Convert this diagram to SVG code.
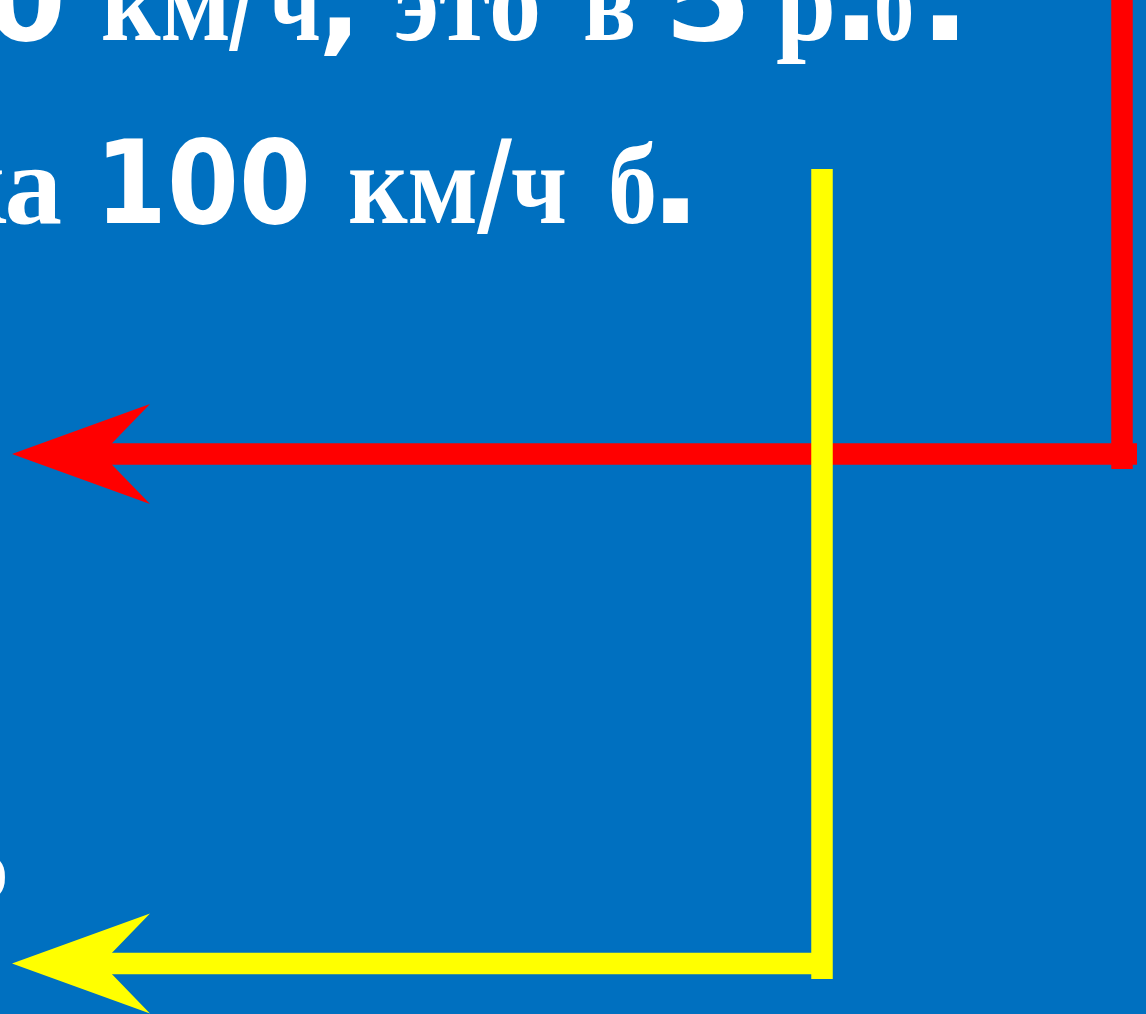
<svg xmlns="http://www.w3.org/2000/svg" width="1146" height="1014" viewBox="0 0 1146 1014">
<style>
.s{font-family:"Liberation Serif","Times New Roman",serif;font-weight:bold;font-size:115px;fill:#ffffff}
.a{font-family:"DejaVu Sans","Liberation Sans",Arial,sans-serif;font-weight:bold;font-size:115px;fill:#ffffff}
.p{font-size:130px}
.c{fill:none;stroke-width:21.5;stroke-linecap:butt}
</style>
<defs>
<marker id="ahR" markerUnits="userSpaceOnUse" orient="auto" refX="0" refY="0" markerWidth="300" markerHeight="300" overflow="visible">
<path d="M100,0 L-38,-50 L0,-10.75 L0,10.75 L-38,50 Z" fill="#ff0000"/>
</marker>
<marker id="ahY" markerUnits="userSpaceOnUse" orient="auto" refX="0" refY="0" markerWidth="300" markerHeight="300" overflow="visible">
<path d="M100,0 L-38,-50 L0,-10.75 L0,10.75 L-38,50 Z" fill="#ffff00"/>
</marker>
</defs>
<rect x="0" y="0" width="1146" height="1014" fill="#0070c0"/>
<g id="line1">
<text class="a" x="66" y="40" text-anchor="end">0</text>
<text class="s" x="101" y="40" textLength="130" lengthAdjust="spacingAndGlyphs">км</text>
<text class="a" x="229" y="40" textLength="28" lengthAdjust="spacingAndGlyphs">/</text>
<text class="s" x="269" y="40" textLength="52" lengthAdjust="spacingAndGlyphs">ч</text>
<text class="a" x="318" y="40">,</text>
<text class="s" x="394" y="40" textLength="147" lengthAdjust="spacingAndGlyphs">это</text>
<text class="s" x="583" y="40" textLength="53" lengthAdjust="spacingAndGlyphs">в</text>
<text class="a" x="664" y="40" textLength="88" lengthAdjust="spacingAndGlyphs">5</text>
<text class="s" x="776" y="40" textLength="60" lengthAdjust="spacingAndGlyphs">р</text>
<text class="a p" x="832" y="40" textLength="49" lengthAdjust="spacingAndGlyphs">.</text>
<text class="s" x="874" y="40" textLength="40" lengthAdjust="spacingAndGlyphs">б</text>
<text class="a p" x="919" y="40" textLength="52" lengthAdjust="spacingAndGlyphs">.</text>
</g>
<g id="line2">
<text class="s" x="62" y="223" text-anchor="end">ка</text>
<text class="a" x="95" y="223" textLength="216" lengthAdjust="spacingAndGlyphs">100</text>
<text class="s" x="348" y="223" textLength="130" lengthAdjust="spacingAndGlyphs">км</text>
<text class="a" x="477" y="223" textLength="35" lengthAdjust="spacingAndGlyphs">/</text>
<text class="s" x="511" y="223" textLength="56" lengthAdjust="spacingAndGlyphs">ч</text>
<text class="s" x="608" y="223" textLength="49" lengthAdjust="spacingAndGlyphs">б</text>
<text class="a p" x="649" y="223" textLength="53" lengthAdjust="spacingAndGlyphs">.</text>
</g>
<g id="line3">
<text class="s" x="7" y="889" text-anchor="end" style="font-size:49px">)</text>
</g>
<g id="connectors">
<path class="c" stroke="#ff0000" d="M1122,-5 V469"/>
<path class="c" stroke="#ff0000" d="M1137,454 H112" marker-end="url(#ahR)"/>
<path class="c" stroke="#ffff00" d="M822,169 V979"/>
<path class="c" stroke="#ffff00" d="M822,963.5 H112" marker-end="url(#ahY)"/>
</g>
</svg>
